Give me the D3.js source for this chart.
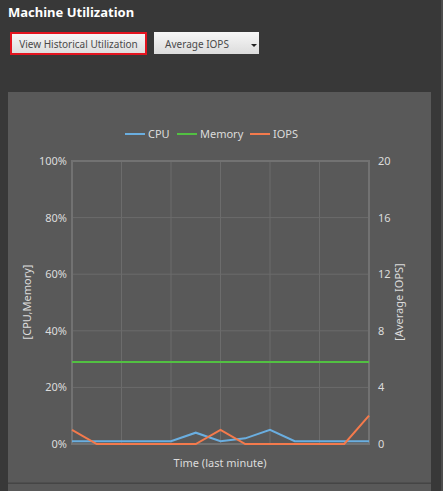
<!DOCTYPE html>
<html><head><meta charset="utf-8">
<script src="https://cdn.jsdelivr.net/npm/d3@7"></script>
<style>
html,body{margin:0;padding:0;background:#383838;overflow:hidden;}
svg{display:block;font-family:"Noto Sans","Open Sans",sans-serif;}
</style></head>
<body><svg id="c" width="443" height="491"></svg>
<script>
// Data
const times = ["t1","t2","t3","t4","t5","t6","t7","t8","t9","t10","t11","t12","t13"];
const cpu    = [1,1,1,1,1,4,1,2,5,1,1,1,1];
const memory = [29,29,29,29,29,29,29,29,29,29,29,29,29];
const iops   = [1,0,0,0,0,0,1,0,0,0,0,0,2];
const leftTicks  = [0,20,40,60,80,100];
const rightTicks = [0,4,8,12,16,20];
const seriesNames = ["CPU","Memory","IOPS"];
const seriesColors = ["#6aaee0","#52c042","#f47a4c"];

const svg = d3.select("#c");
// page
svg.append("rect").attr("width",443).attr("height",491).attr("fill","#383838");
svg.append("rect").attr("x",441).attr("y",0).attr("width",2).attr("height",491).attr("fill","#4c4c4c");
// title
svg.append("text").attr("x",8).attr("y",17).attr("fill","#ffffff")
  .attr("font-size",13).attr("font-weight","bold").text("Machine Utilization");

// buttons
const defs = svg.append("defs");
const g1 = defs.append("linearGradient").attr("id","btn").attr("x1",0).attr("y1",0).attr("x2",0).attr("y2",1);
g1.append("stop").attr("offset","0%").attr("stop-color","#f7f7f7");
g1.append("stop").attr("offset","100%").attr("stop-color","#dcdcdc");
svg.append("rect").attr("x",11).attr("y",33).attr("width",135).attr("height",21)
  .attr("fill","url(#btn)").attr("stroke","#e3141f").attr("stroke-width",2);
svg.append("text").attr("x",78.5).attr("y",47.5).attr("text-anchor","middle")
  .attr("font-size",10).attr("fill","#4a4a4a").text("View Historical Utilization");
svg.append("rect").attr("x",154).attr("y",32).attr("width",105).attr("height",22)
  .attr("fill","url(#btn)");
svg.append("text").attr("x",197).attr("y",47.5).attr("text-anchor","middle")
  .attr("font-size",10).attr("fill","#4a4a4a").text("Average IOPS");
svg.append("path").attr("d","M251,44 L257,44 L254,47 Z").attr("fill","#222");

// panel
svg.append("rect").attr("x",8).attr("y",92).attr("width",423).attr("height",399).attr("fill","#595959");
svg.append("rect").attr("x",8).attr("y",482.5).attr("width",423).attr("height",1.5).attr("fill","#454545");

// scales
const x0 = 72, x1 = 369, yTop = 161, yBot = 444;
const x = d3.scalePoint().domain(d3.range(times.length)).range([x0,x1]);
const yL = d3.scaleLinear().domain([0,100]).range([yBot,yTop]);
const yR = d3.scaleLinear().domain([0,20]).range([yBot,yTop]);

// grid
const grid = svg.append("g");
grid.selectAll(".gx").data(d3.range(0,times.length,2)).join("line")
  .attr("x1",d=>x(d)).attr("x2",d=>x(d)).attr("y1",yTop).attr("y2",yBot)
  .attr("stroke","#6c6c6c").attr("stroke-width",1);
grid.selectAll(".gy").data(leftTicks).join("line")
  .attr("x1",x0).attr("x2",x1).attr("y1",d=>yL(d)).attr("y2",d=>yL(d))
  .attr("stroke","#6c6c6c").attr("stroke-width",1);
svg.append("rect").attr("x",x0).attr("y",yTop).attr("width",x1-x0).attr("height",yBot-yTop)
  .attr("fill","none").attr("stroke","#727272").attr("stroke-width",2);

// axes
const axL = d3.axisLeft(yL).tickValues(leftTicks).tickFormat(d=>d+"%").tickSize(0).tickPadding(5);
const axR = d3.axisRight(yR).tickValues(rightTicks).tickSize(0).tickPadding(9);
const gL = svg.append("g").attr("transform",`translate(${x0},0)`).call(axL);
const gR = svg.append("g").attr("transform",`translate(${x1},0)`).call(axR);
[gL,gR].forEach(g=>{
  g.select(".domain").remove();
  g.selectAll("text").attr("fill","#dcdcdc").attr("font-size",11)
   .attr("font-family","'Noto Sans','Open Sans',sans-serif");
});

// axis titles
svg.append("text").attr("transform","translate(31,302) rotate(-90)").attr("text-anchor","middle")
  .attr("fill","#dcdcdc").attr("font-size",11).text("[CPU,Memory]");
svg.append("text").attr("transform","translate(403,302) rotate(-90)").attr("text-anchor","middle")
  .attr("fill","#dcdcdc").attr("font-size",11).text("[Average IOPS]");
svg.append("text").attr("x",220).attr("y",467).attr("text-anchor","middle")
  .attr("fill","#dcdcdc").attr("font-size",11).text("Time (last minute)");

// lines
const lineL = d3.line().x((d,i)=>x(i)).y(d=>yL(d));
const lineR = d3.line().x((d,i)=>x(i)).y(d=>yR(d));
svg.append("path").datum(memory).attr("d",lineL).attr("fill","none").attr("stroke",seriesColors[1]).attr("stroke-width",2);
svg.append("path").datum(cpu).attr("d",lineL).attr("fill","none").attr("stroke",seriesColors[0]).attr("stroke-width",2);
svg.append("path").datum(iops).attr("d",lineR).attr("fill","none").attr("stroke",seriesColors[2]).attr("stroke-width",2);

// legend
const legX = [125,177,250];
const leg = svg.append("g");
seriesNames.forEach((n,i)=>{
  leg.append("line").attr("x1",legX[i]).attr("x2",legX[i]+20).attr("y1",134).attr("y2",134)
    .attr("stroke",seriesColors[i]).attr("stroke-width",2);
  leg.append("text").attr("x",legX[i]+23).attr("y",138).attr("fill","#dcdcdc")
    .attr("font-size",11).text(n);
});
</script></body></html>
